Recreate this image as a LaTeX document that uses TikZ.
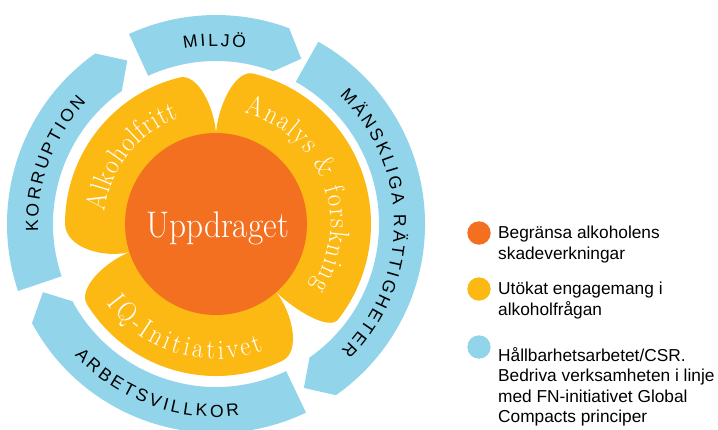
\documentclass[tikz,border=0pt]{standalone}
\usepackage{fontspec}
\newfontfamily\legsans{Liberation Sans}
\definecolor{cOrange}{RGB}{243,112,33}
\definecolor{cYellow}{RGB}{253,185,19}
\definecolor{cBlue}{RGB}{146,213,234}
% #1 font, #2 size, #3 radius, #4 centre angle, #5 dir (1 = clockwise, tops out; -1 = counter-clockwise, tops in), #6 tracking, #7 letter/width list, #8 name prefix, #9 horizontal scale
\newcommand\ArcText[9]{%
  \gdef\acTot{0}%
  \foreach \ch/\w in {#7}{\pgfmathsetmacro\acT{\acTot + \w*#2*#9 + #6}\global\let\acTot\acT}%
  \pgfmathsetmacro\acTot{\acTot - #6}%
  \gdef\acPos{0}%
  \foreach \ch/\w [count=\ci] in {#7}{%
    \pgfmathsetmacro\acAng{#4 + #5*(\acTot/2 - \acPos - \w*#2*#9/2)/#3*57.29578}%
    \pgfmathsetmacro\acRot{\acAng - #5*90}%
    \node[anchor=base, inner sep=0pt, rotate=\acRot, xscale=#9] (#8-\ci) at (\acAng:#3) {\fontsize{#2}{#2}\selectfont#1\ch};
    \pgfmathsetmacro\acN{\acPos + \w*#2*#9 + #6}%
    \global\let\acPos\acN
  }%
}
\newcommand\BlueSeg[2]{\fill[cBlue] (#1:209) arc[start angle=#1, end angle=#2, radius=209] -- ({#2-6.8}:186) -- (#2:163) arc[start angle=#2, end angle=#1, radius=163] -- cycle;}
\newcommand\Petal[5]{\fill[cYellow] (#1:91) .. controls ({#1+1}:118) and ({#1+0.5*#4}:{#3+1}) .. ({#1+#4}:#3) arc[start angle={#1+#4}, end angle={#2-#5}, radius=#3] .. controls ({#2-0.5*#5}:{#3+1}) and ({#2-1}:118) .. (#2:91) -- (0,0) -- cycle;}
\begin{document}
\begin{tikzpicture}[x=1pt,y=1pt,
  legtext/.style={anchor=base west, align=left, inner sep=0pt, font=\legsans\fontsize{17.3}{20.5}\selectfont},
  legdot/.style={circle, inner sep=0pt, minimum size=23.4pt}]
\useasboundingbox (-216,-205) rectangle (502,224);
\clip (-216,-205) rectangle (502,224);
% blue ring segments
\BlueSeg{114.6}{69.5}
\BlueSeg{60.7}{-55}
\BlueSeg{-64.5}{-151.7}
\BlueSeg{198.7}{125.3}
% petals
\Petal{90}{198}{151}{14}{18}
\Petal{-48.5}{90}{155}{10.5}{14}
\Petal{-162}{-48.5}{152}{14}{15.5}
% core
\node[circle, fill=cOrange, minimum size=182pt, inner sep=0pt] (core) at (0,0) {};
\node[anchor=base, text=white, font=\fontsize{37}{37}\fontseries{db}\selectfont, inner sep=0pt, xscale=0.9] (uppdraget) at (1.5,-13) {Uppdraget};
% petal texts
\ArcText{\color{white}\fontseries{db}\selectfont}{28}{112}{141.6}{1}{0}{A/.75,l/.278,k/.528,o/.5,h/.556,o/.5,l/.278,f/.306,r/.392,i/.278,t/.389,t/.389}{alk}{0.88}
\ArcText{\color{white}\fontseries{db}\selectfont}{28}{114.5}{21}{1}{0.65}{A/.75,n/.556,a/.5,l/.278,y/.528,s/.394,~/.333,\&/.778,~/.333,f/.306,o/.5,r/.392,s/.394,k/.528,n/.556,i/.278,n/.556,g/.5}{ana}{0.88}
\ArcText{\color{white}\fontseries{db}\selectfont}{28}{135}{-106.5}{-1}{2.5}{I/.361,Q/.778,-/.333,I/.361,n/.556,i/.278,t/.389,i/.278,a/.5,t/.389,i/.278,v/.528,e/.444,t/.389}{iq}{0.88}
% ring texts
\ArcText{\legsans}{17.5}{178}{90.45}{1}{2.5}{M/.833,I/.278,L/.556,J/.5,Ö/.778}{mil}{1}
\ArcText{\legsans}{17.5}{178}{0.3}{1}{2.7}{M/.833,Ä/.667,N/.722,S/.667,K/.667,L/.556,I/.278,G/.778,A/.667,~/.278,R/.722,Ä/.667,T/.611,T/.611,I/.278,G/.778,H/.722,E/.667,T/.611,E/.667,R/.722}{man}{1}
\ArcText{\legsans}{17.5}{178}{159.65}{1}{2.8}{K/.667,O/.778,R/.722,R/.722,U/.722,P/.667,T/.611,I/.278,O/.778,N/.722}{kor}{1}
\ArcText{\legsans}{17.5}{193}{-110.05}{-1}{3.2}{A/.667,R/.722,B/.667,E/.667,T/.611,S/.667,V/.667,I/.278,L/.556,L/.556,K/.667,O/.778,R/.722}{arb}{1}
% legend
\node[legdot, fill=cOrange] (d1) at (263,-9) {};
\node[legdot, fill=cYellow] (d2) at (263,-65) {};
\node[legdot, fill=cBlue] (d3) at (263,-123) {};
\node[legtext] (t1) at (282,-35.3) {Begränsa alkoholens\\skadeverkningar};
\node[legtext] (t2) at (282,-91) {Utökat engagemang i\\alkoholfrågan};
\node[legtext] (t3) at (282,-198.5) {Hållbarhetsarbetet/CSR.\\Bedriva verksamheten i linje\\med FN-initiativet Global\\Compacts principer};
\end{tikzpicture}
\end{document}
